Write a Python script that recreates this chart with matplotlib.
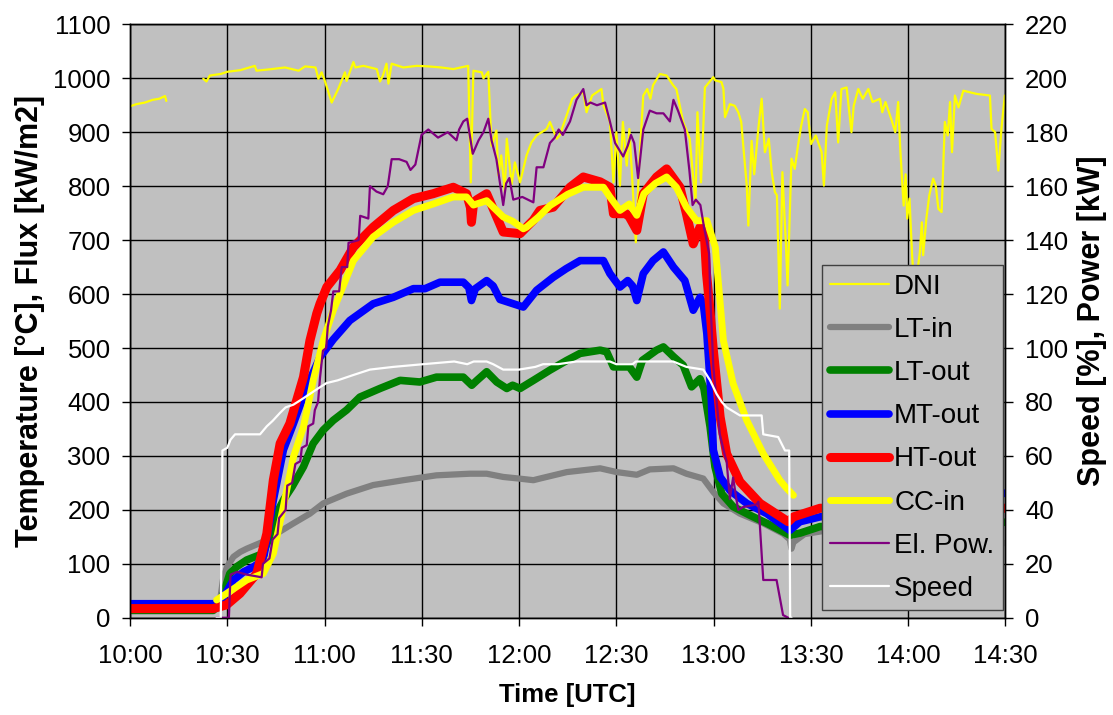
import numpy as np
import matplotlib
matplotlib.use("Agg")
import matplotlib.pyplot as plt

plt.rcParams["font.family"] = ["Liberation Sans", "DejaVu Sans"]

# time in minutes after 10:00 UTC, value
dni = [(0, 948), (2, 952), (4.6, 955), (7, 960), (9, 962), (10.8, 967), (11.2, 958), (11.5, np.nan),
       (22.6, 999), (23.6, 994), (24.6, 1005), (28, 1008), (30, 1012), (34, 1015), (38.5, 1023),
       (39, 1014), (43.7, 1017), (47.8, 1020), (52, 1014), (54, 1022), (57.2, 1020), (58.1, 999),
       (59.1, 1011), (60.1, 995), (62.2, 955), (64.2, 980), (66.3, 1011), (66.8, 995), (68.9, 1030),
       (69.5, 1020), (72, 1023), (76.1, 1017), (77.1, 994), (78, 1005), (79.1, 1027), (79.7, 990),
       (80.7, 1027), (84.3, 1020), (88.4, 1023), (92, 1022), (96, 1020), (99.7, 1017), (104.3, 1023),
       (105.1, 807), (105.9, 1014), (108.5, 1011), (109, 1000), (110.5, 1012), (111.5, 875),
       (112.5, 894), (113, 903), (113.6, 820), (114.5, 857), (115.6, 789), (116.2, 888), (117.7, 804),
       (118.7, 844), (120.3, 807), (122.3, 857), (123.8, 881), (125.4, 894), (128.5, 906), (129.5, 919),
       (131.6, 888), (132.5, 894), (134.3, 925), (136.4, 962), (137.5, 968), (139.8, 974), (140.8, 937),
       (142.5, 968), (145.4, 980), (146, 950), (148, 919), (149.1, 807), (150, 900), (151.1, 801),
       (152, 919), (153.2, 838), (154, 906), (156, 696), (157, 838), (158.3, 968), (159.5, 980),
       (160.5, 962), (161.3, 987), (163.4, 1008), (165.5, 1005), (167.5, 987), (168.5, 980),
       (170.6, 919), (172.6, 888), (174.4, 770), (175, 937), (176.1, 807), (177.3, 983), (179.9, 1002),
       (180.5, 996), (182.4, 993), (183, 981), (183.5, 928), (185, 952), (186.5, 949), (187.6, 937),
       (188.5, 919), (190.2, 801), (190.7, 727), (191.7, 884), (192.5, 822), (193.8, 908), (194.8, 962),
       (195.8, 863), (197, 888), (197.9, 826), (198.9, 789), (199.5, 783), (200.4, 573), (201.2, 826),
       (202.3, 690), (202.8, 616), (204, 851), (205, 832), (206, 875), (207, 912), (208.1, 943),
       (209, 937), (210, 878), (211.5, 894), (213.3, 863), (214, 801), (214.9, 912), (216.4, 962),
       (217.5, 974), (218.4, 881), (219.4, 980), (221, 983), (222.5, 900), (223.2, 949), (224.6, 980),
       (226, 962), (227.7, 980), (229, 956), (231.3, 962), (232, 937), (233, 956), (234.9, 922),
       (236, 900), (236.9, 956), (237.5, 875), (238, 822), (238.6, 764), (239.2, 822), (239.7, 740),
       (240.4, 777), (241.2, 672), (242, 600), (242.8, 640), (243.6, 678), (244.2, 733), (244.6, 672),
       (245.6, 740), (246.5, 783), (247.7, 814), (248.5, 801), (249.3, 758), (250.3, 752), (251.3, 919),
       (252.2, 894), (252.9, 956), (253.5, 863), (254.4, 968), (255.5, 946), (257, 977), (261.1, 971),
       (265.2, 968), (265.7, 906), (266.8, 900), (267.8, 829), (268.8, 910), (269.8, 968)]

lt_in = [(0, 12), (25.7, 12), (27.8, 33), (28.8, 76), (30, 95), (31.9, 113), (34, 122), (36, 128),
         (41.1, 141), (45.2, 156), (50.4, 175), (55.5, 193), (59.6, 212), (66.8, 230), (75, 246),
         (84.3, 255), (94.5, 264), (104.8, 267), (110, 267), (115.1, 261), (120, 258), (124.4, 255),
         (126.4, 258), (134.7, 270), (145, 277), (150.1, 270), (156.3, 265), (160.3, 275), (167.6, 277),
         (171.6, 267), (176.8, 258), (179.9, 233), (183, 212), (188.1, 193), (195.3, 175), (201.4, 156),
         (203.5, 145), (204, 128), (204.6, 140), (208, 155), (215, 162), (230, 165), (250, 155),
         (265, 145), (270, 138)]

lt_out = [(0, 14), (25.7, 14), (28, 30), (30.8, 82), (33, 95), (36, 107), (41.1, 119), (43, 150),
          (45.2, 193), (47.5, 220), (50, 243), (53.5, 280), (56.5, 323), (59.6, 348), (62.7, 366),
          (66.8, 385), (70.9, 409), (77.1, 425), (83.3, 440), (89.4, 437), (94.5, 446), (102.8, 446),
          (105.4, 431), (107, 440), (110, 456), (113.1, 437), (116.2, 425), (118, 431), (120.3, 425),
          (124.4, 440), (129.5, 459), (134.7, 477), (138.8, 490), (145, 496), (147, 493), (149.1, 465),
          (154, 465), (156.3, 446), (158, 477), (162.4, 496), (164.5, 502), (167.6, 484), (170.6, 468),
          (173.2, 428), (175.8, 443), (177, 425), (178.9, 354), (180.4, 280), (182.5, 230), (186, 206),
          (191.2, 190), (196.4, 175), (203.5, 153), (206.7, 157), (212.8, 169), (230, 172), (250, 175),
          (270, 177)]

mt_out = [(0, 26), (25.7, 26), (28, 30), (31.9, 70), (35, 85), (38, 94), (41.1, 107), (44.2, 218),
          (47.3, 311), (50.4, 360), (54.5, 428), (58.6, 483), (62.7, 516), (67.8, 551), (75, 582),
          (81.2, 594), (87.4, 610), (91, 610), (95.6, 622), (102.8, 622), (104.5, 612), (105.3, 588),
          (106.5, 610), (110, 625), (112, 615), (114.1, 590), (118.2, 582), (121.3, 576), (125.4, 607),
          (130.5, 631), (134.5, 647), (138.8, 662), (146, 662), (148, 638), (151.1, 613), (153.5, 625),
          (155, 615), (156.3, 588), (158.3, 638), (161.3, 662), (164.5, 678), (167.6, 650), (171.1, 625),
          (173.7, 570), (175.8, 594), (176.8, 582), (177.9, 527), (179.3, 403), (179.9, 311), (182, 261),
          (185, 236), (190.2, 212), (196.4, 193), (203.5, 162), (206.6, 178), (212.8, 187), (230, 200),
          (250, 215), (270, 231)]

ht_out = [(0, 17), (25.7, 17), (29.8, 24), (33.9, 45), (39.1, 82), (42.2, 156), (44.2, 255),
          (46.3, 323), (49.3, 360), (51.4, 403), (53.5, 446), (55.5, 514), (57.6, 564), (58.6, 582),
          (60.7, 613), (64.8, 644), (68.9, 687), (75, 724), (81.2, 755), (87.4, 777), (93.5, 786),
          (99.7, 798), (103.8, 786), (105, 760), (105.3, 733), (106, 770), (107, 775), (110, 786),
          (113.1, 743), (115.1, 715), (120.3, 712), (124.4, 737), (126.4, 755), (130.5, 761),
          (135.7, 798), (139.8, 817), (145, 808), (148, 798), (149.1, 749), (153, 749), (154, 743),
          (156.3, 718), (158.3, 786), (162.4, 817), (165.5, 832), (169.6, 798), (171.6, 749),
          (173.7, 693), (175.8, 724), (177, 724), (177.8, 638), (178.6, 588), (179.9, 496), (182, 372),
          (184, 304), (188.1, 252), (194.3, 212), (203, 178), (204.6, 187), (212.8, 203), (230, 203),
          (250, 203), (270, 203)]

cc_in = [(26.7, 33), (29.8, 45), (36, 70), (41.1, 82), (44.2, 119), (47.3, 206), (50.4, 298),
         (53.5, 354), (56.5, 440), (59.6, 514), (62.7, 570), (64.8, 601), (68.9, 662), (75, 706),
         (81.2, 733), (87.4, 755), (93.5, 767), (99.7, 780), (103.8, 780), (105.9, 765), (110, 773),
         (115.1, 743), (118, 735), (121.3, 721), (122.3, 724), (126, 743), (129.5, 764), (135, 785),
         (139.8, 798), (146, 798), (148, 780), (151.1, 755), (154, 767), (156.3, 746), (158.5, 786),
         (162, 805), (165.5, 817), (168.5, 798), (171.6, 761), (174.7, 736), (177.9, 736), (180.5, 687),
         (183, 514), (186, 434), (190.2, 366), (195.3, 304), (200.4, 255), (202.5, 240), (204.6, 227)]

# right axis: kW
el_pow = [(26.7, 0), (30.5, 0), (31, 16), (33, 17), (36, 16), (40.6, 15), (41, 20), (43, 22), (44, 29),
          (45.5, 31), (46, 37), (48, 40), (48.5, 49), (50, 50), (51, 57), (52.5, 58), (53, 63),
          (54.5, 64), (55, 71), (56.5, 72), (57, 77), (58, 80), (58.6, 89), (59.5, 99), (60.5, 100),
          (61, 108), (62, 114), (62.7, 121), (64.5, 121), (65.3, 130), (67, 130), (67.4, 139),
          (70.5, 140), (71, 149), (73.5, 148), (74, 160), (76, 158), (78.1, 157), (79.5, 160),
          (80.7, 170), (83, 170), (85.3, 169), (86.5, 166), (88, 168), (89.9, 179), (92, 181), (95, 178),
          (98, 180), (100.7, 177), (101.5, 181), (102.8, 184), (104, 185), (105.7, 172), (107.5, 177),
          (109, 180), (110.5, 185), (111.5, 177), (113, 170), (113.5, 166), (115.1, 153), (116, 161),
          (117, 163), (118.2, 155), (121, 156), (124.4, 154), (125.4, 167), (127.5, 167), (129.5, 176),
          (131, 178), (132.2, 181), (133.5, 179), (135.7, 184), (137.7, 192), (139.8, 196), (140.8, 190),
          (142, 191), (144, 190), (146.5, 191), (148, 184), (149.6, 176), (152.1, 171), (153.5, 175),
          (154.5, 179), (155.5, 176), (156.7, 163), (158.3, 181), (160.3, 188), (162.4, 187),
          (164.5, 187), (166.5, 184), (167.6, 192), (169, 188), (171.1, 181), (172.5, 166), (173.5, 153),
          (174.5, 155), (175.9, 153), (177, 145), (178.6, 135), (179, 118), (179.9, 93), (181.9, 68),
          (183.5, 60), (184, 58), (185, 44), (186, 52), (187, 44), (187.6, 40), (189, 41), (193.2, 42),
          (193.8, 43), (195.3, 14), (199.4, 14), (201.4, 1), (203, 0)]

# right axis: %
speed = [(26.7, 0), (28, 0), (28.5, 62), (30, 63), (31, 66), (32.4, 68), (40.1, 68), (42.2, 71),
         (44, 73), (46.3, 76), (48, 78), (50.4, 79), (53, 81), (55.5, 83), (58, 85), (60.6, 87),
         (64, 88), (68.9, 90), (74, 92), (81.2, 93), (90.4, 94), (100, 95), (104, 94), (106, 95),
         (110, 95), (112, 94), (115.1, 92), (120, 92), (125, 93), (127.4, 94), (132, 94), (137.7, 95),
         (148, 95), (150, 94), (155, 94), (156, 95), (167.5, 95), (171.6, 93), (176.8, 92), (178.9, 88),
         (180.9, 83), (182.5, 80), (184, 78), (188.1, 75), (194.8, 75), (195.3, 68), (199.9, 67),
         (202, 62), (203.3, 62), (203.6, 0), (204, 0)]

time_ticks = ["10:00", "10:30", "11:00", "11:30", "12:00", "12:30", "13:00", "13:30", "14:00", "14:30"]

BG = "#C0C0C0"

fig = plt.figure(figsize=(11.13, 7.15), dpi=100)
ax = fig.add_axes([0.1168, 0.136, 0.7866, 0.830])
ax.set_facecolor(BG)
ax2 = ax.twinx()


def draw(a, series, color, lw, label):
    t, v = zip(*series)
    return a.plot(t, v, color=color, lw=lw, label=label,
                  solid_capstyle="round", solid_joinstyle="round")[0]


handles = [
    draw(ax, dni, "#FFFF00", 1.6, "DNI"),
    draw(ax, lt_in, "#808080", 4.5, "LT-in"),
    draw(ax, lt_out, "#008000", 5.5, "LT-out"),
    draw(ax, mt_out, "#0000FF", 5.5, "MT-out"),
    draw(ax, ht_out, "#FF0000", 6.5, "HT-out"),
    draw(ax, cc_in, "#FFFF00", 5.0, "CC-in"),
    draw(ax2, el_pow, "#800080", 1.6, "El. Pow."),
    draw(ax2, speed, "#FFFFFF", 1.6, "Speed"),
]

ax.set_xlim(0, 270)
ax.set_ylim(0, 1100)
ax2.set_ylim(0, 220)
ax.set_xticks(np.arange(0, 271, 30))
ax.set_xticklabels(time_ticks)
ax.set_yticks(np.arange(0, 1101, 100))
ax2.set_yticks(np.arange(0, 221, 20))

ax.grid(True, color="black", linewidth=1)
ax.set_axisbelow(True)
for a in (ax, ax2):
    for s in a.spines.values():
        s.set_color("black")
        s.set_linewidth(1)

ax.tick_params(axis="x", direction="out", length=6, width=1, labelsize=18.5, pad=13)
ax.tick_params(axis="y", direction="out", length=6, width=1, labelsize=18.5, pad=8)
ax2.tick_params(axis="y", direction="out", length=6, width=1, labelsize=18.5, pad=8)

ax.set_xlabel("Time [UTC]", fontsize=18.5, fontweight="bold")
ax.set_ylabel("Temperature [°C], Flux [kW/m2]", fontsize=22, fontweight="bold")
ax2.set_ylabel("Speed [%], Power [kW]", fontsize=22, fontweight="bold")
ax.xaxis.set_label_coords(0.5, -0.11)
ax.yaxis.set_label_coords(-0.097, 0.5)
ax2.yaxis.set_label_coords(1.082, 0.5)

leg = ax2.legend(handles=handles, loc="upper left", bbox_to_anchor=(0.7904, 0.594),
                 borderaxespad=0, fontsize=20, frameon=True, fancybox=False,
                 facecolor=BG, edgecolor="#404040", framealpha=1,
                 handlelength=2.1, handletextpad=0.2, labelspacing=0.62, borderpad=0.3)
leg.get_frame().set_linewidth(1)

fig.savefig("out.png", dpi=100)
